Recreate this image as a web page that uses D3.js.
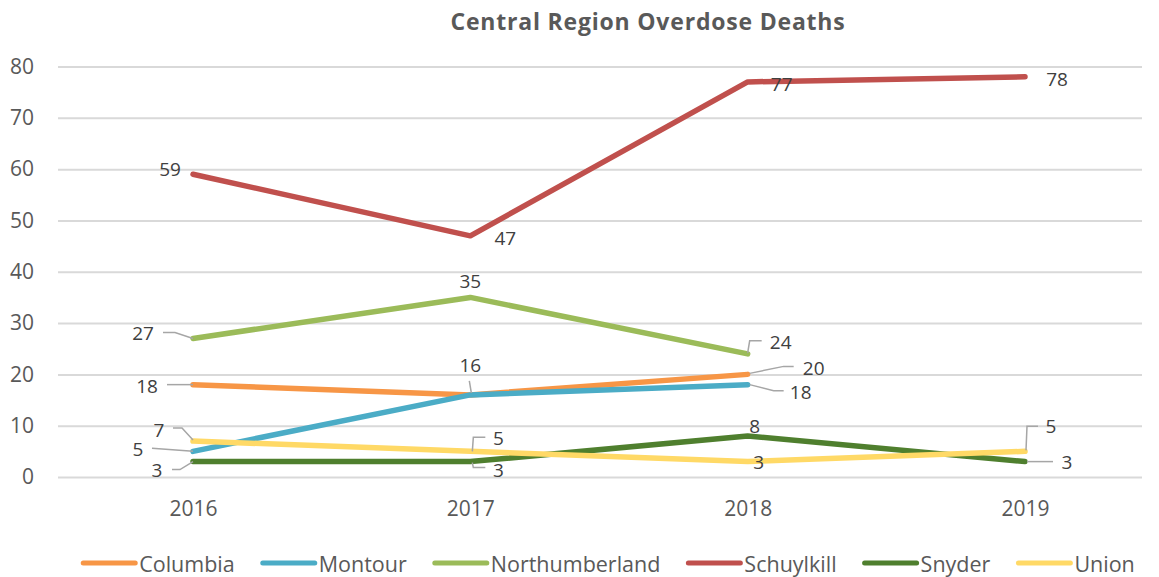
<!DOCTYPE html>
<html>
<head>
<meta charset="utf-8">
<script src="https://cdn.jsdelivr.net/npm/d3@7"></script>
<style>
  html, body { margin: 0; padding: 0; background: #fff; }
  svg { display: block; font-family: "Open Sans", "Liberation Sans", sans-serif; }
</style>
</head>
<body>
<svg id="chart" width="1159" height="577"></svg>
<script>
// ---- Data ----
const years = ["2016", "2017", "2018", "2019"];
const seriesNames = ["Columbia", "Montour", "Northumberland", "Schuylkill", "Snyder", "Union"];
const columbia       = [18, 16, 20, null];
const montour        = [5, 16, 18, null];
const northumberland = [27, 35, 24, null];
const schuylkill     = [59, 47, 77, 78];
const snyder         = [3, 3, 8, 3];
const union          = [7, 5, 3, 5];
const yTicks = [0, 10, 20, 30, 40, 50, 60, 70, 80];

const seriesValues = [columbia, montour, northumberland, schuylkill, snyder, union];
const seriesColors = ["#F79646", "#4BACC6", "#9BBB59", "#C0504D", "#4F7F2E", "#FFD966"];

// Data label placement: offset of the label centre from its point, plus
// an optional leader line (points relative to the data point).
const labelLayout = {
  "Columbia-2016":       { dx: -46, dy: 1,   leader: [[-26, 0], [0, 0]] },
  "Columbia-2017":       { dx: 0,   dy: -30, leader: [[-1, -14], [1, -2]] },
  "Columbia-2018":       { dx: 66,  dy: -6,  leader: [[2, -1], [36, -8], [46, -8]] },
  "Montour-2016":        { dx: -55, dy: -2,  leader: [[-41, -3], [0, 0]] },
  "Montour-2017":        null,
  "Montour-2018":        { dx: 53,  dy: 7,   leader: [[2, 0], [26, 6], [36, 6]] },
  "Northumberland-2016": { dx: -50, dy: -5,  leader: [[-30, -6], [-18, -6], [0, 0]] },
  "Northumberland-2017": { dx: 0,   dy: -16 },
  "Northumberland-2018": { dx: 33,  dy: -12, leader: [[0, -1], [2, -13], [14, -13]] },
  "Schuylkill-2016":     { dx: -23, dy: -5 },
  "Schuylkill-2017":     { dx: 35,  dy: 2 },
  "Schuylkill-2018":     { dx: 34,  dy: 2 },
  "Schuylkill-2019":     { dx: 32,  dy: 2 },
  "Snyder-2016":         { dx: -36, dy: 8,   leader: [[-21, 8], [-13, 8], [0, 0]] },
  "Snyder-2017":         { dx: 28,  dy: 8,   leader: [[2, 1], [3, 6], [15, 6]] },
  "Snyder-2018":         { dx: 7,   dy: -10 },
  "Snyder-2019":         { dx: 42,  dy: 0,   leader: [[2, 0], [28, 0]] },
  "Union-2016":          { dx: -34, dy: -11, leader: [[-20, -13], [-11, -13], [0, -1]] },
  "Union-2017":          { dx: 28,  dy: -13, leader: [[2, 0], [3, -14], [15, -14]] },
  "Union-2018":          { dx: 11,  dy: 0 },
  "Union-2019":          { dx: 26,  dy: -25, leader: [[1, -1], [2, -25], [13, -25]] }
};

// ---- Layout ----
const svg = d3.select("#chart");
const textColor = "#595959";
const gridLeft = 58, gridRight = 1142;

const x = d3.scalePoint().domain(years).range([193, 1025]);
const y = d3.scaleLinear().domain([0, 80]).range([477, 66.5]);

// Title
svg.append("text")
  .attr("x", 648).attr("y", 30)
  .attr("text-anchor", "middle")
  .attr("font-size", 23).attr("font-weight", "bold")
  .attr("letter-spacing", 0.8)
  .attr("fill", textColor)
  .text("Central Region Overdose Deaths");

// Y axis: gridlines and labels
const yAxis = d3.axisLeft(y).tickValues(yTicks).tickSize(-(gridRight - gridLeft)).tickPadding(24);
const yg = svg.append("g").attr("transform", `translate(${gridLeft},0)`).call(yAxis);
yg.select(".domain").remove();
yg.selectAll(".tick line").attr("stroke", "#D9D9D9").attr("stroke-width", 2);
yg.selectAll(".tick text")
  .attr("fill", textColor).attr("font-size", 21)
  .attr("font-family", "'Open Sans', sans-serif");

// X axis labels
const xAxis = d3.axisBottom(x).tickSize(0).tickPadding(0);
const xg = svg.append("g").attr("transform", "translate(0,501)").call(xAxis);
xg.select(".domain").remove();
xg.selectAll(".tick text")
  .attr("fill", textColor).attr("font-size", 21)
  .attr("font-family", "'Open Sans', sans-serif");

// Lines
const line = d3.line()
  .defined(d => d.v !== null)
  .x(d => x(d.year))
  .y(d => y(d.v));

const series = seriesNames.map((name, i) => ({
  name,
  color: seriesColors[i],
  points: years.map((yr, j) => ({ year: yr, v: seriesValues[i][j] }))
}));

svg.append("g").selectAll("path")
  .data(series)
  .join("path")
  .attr("fill", "none")
  .attr("stroke", d => d.color)
  .attr("stroke-width", 5.5)
  .attr("stroke-linecap", "round")
  .attr("stroke-linejoin", "round")
  .attr("d", d => line(d.points));

// Data labels with leader lines
const labelG = svg.append("g");
series.forEach(s => {
  s.points.forEach(p => {
    if (p.v === null) return;
    const lay = labelLayout[`${s.name}-${p.year}`];
    if (!lay) return;
    const px = x(p.year), py = y(p.v);
    if (lay.leader) {
      labelG.append("path")
        .attr("fill", "none")
        .attr("stroke", "#A6A6A6")
        .attr("stroke-width", 1.5)
        .attr("d", d3.line()(lay.leader.map(([a, b]) => [px + a, py + b])));
    }
    labelG.append("text")
      .attr("x", px + lay.dx).attr("y", py + lay.dy)
      .attr("text-anchor", "middle")
      .attr("dominant-baseline", "central")
      .attr("font-size", 19)
      .attr("fill", "#404040")
      .text(p.v);
  });
});

// Legend
const legend = svg.append("g").attr("transform", "translate(0,563)");
const swatchW = 52, swatchGap = 4, itemGap = 28;
const items = legend.selectAll("g").data(series).join("g");
items.append("line")
  .attr("x1", 0).attr("x2", swatchW)
  .attr("y1", 0).attr("y2", 0)
  .attr("stroke", d => d.color)
  .attr("stroke-width", 5)
  .attr("stroke-linecap", "round");
items.append("text")
  .attr("x", swatchW + swatchGap)
  .attr("dominant-baseline", "central")
  .attr("font-size", 21.5)
  .attr("fill", textColor)
  .text(d => d.name);

let widths = [];
items.each(function () {
  widths.push(swatchW + swatchGap + d3.select(this).select("text").node().getComputedTextLength());
});
const total = d3.sum(widths) + itemGap * (widths.length - 1);
let cursor = 609 - total / 2;
items.each(function (d, i) {
  d3.select(this).attr("transform", `translate(${cursor},0)`);
  cursor += widths[i] + itemGap;
});
</script>
</body>
</html>
